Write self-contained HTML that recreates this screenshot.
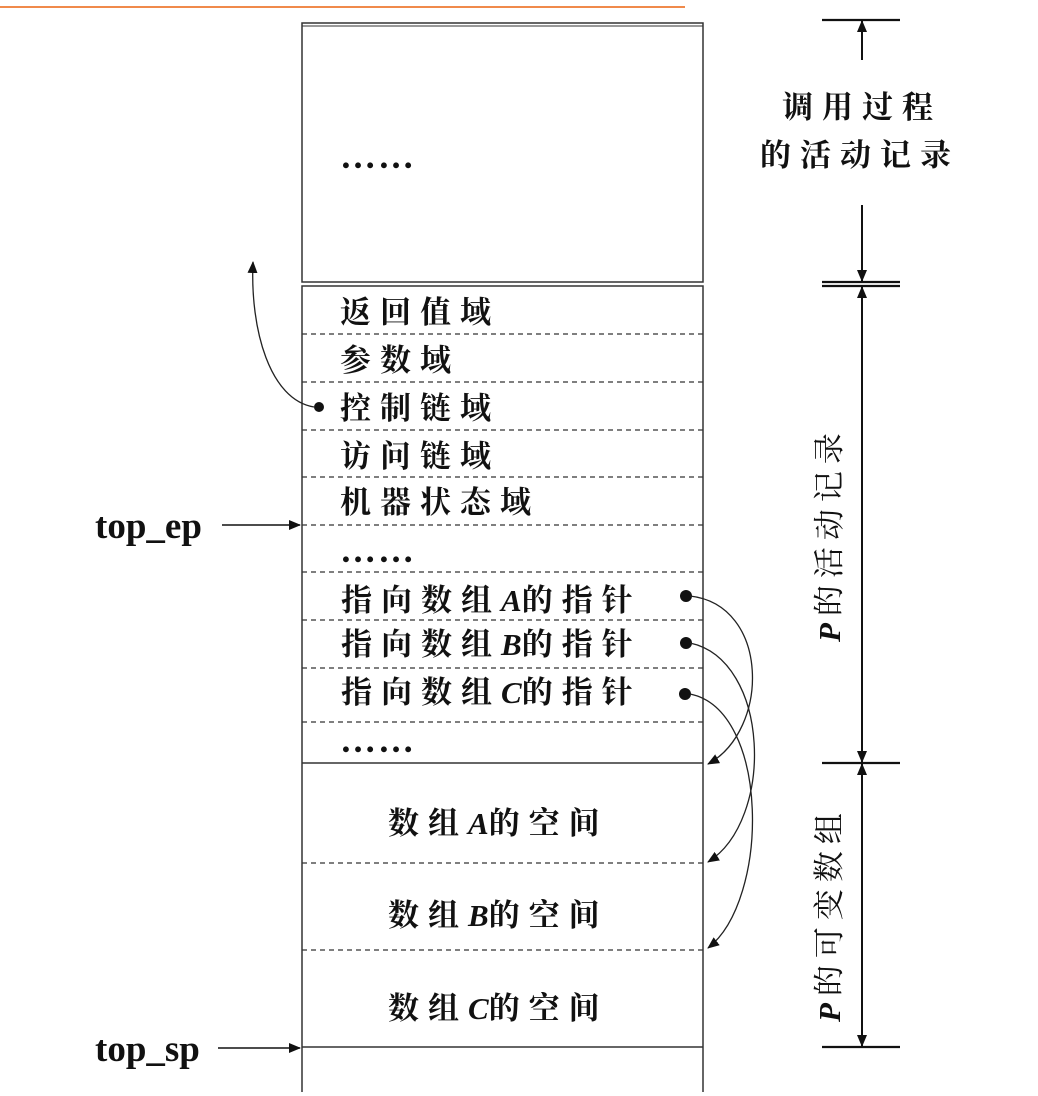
<!DOCTYPE html>
<html><head><meta charset="utf-8"><style>
html,body{margin:0;padding:0;background:#fff;}
svg{display:block;}
.cj{font-family:"Liberation Serif","Noto Serif CJK SC",serif;font-weight:bold;font-size:31px;letter-spacing:9px;fill:#111;}
.lb{font-family:"Liberation Serif",serif;font-weight:bold;font-size:37px;fill:#111;}
.dt{font-family:"Liberation Serif",serif;font-weight:bold;font-size:36px;letter-spacing:2px;fill:#111;}
.vt{font-family:"Liberation Serif","Noto Serif CJK SC",serif;font-size:31px;letter-spacing:7px;fill:#111;}
</style></head><body>
<svg width="1038" height="1096" viewBox="0 0 1038 1096" xmlns="http://www.w3.org/2000/svg">
<defs>
<marker id="ah" markerWidth="12" markerHeight="10" refX="11" refY="5" orient="auto" markerUnits="userSpaceOnUse">
<path d="M0,0 L12,5 L0,10 z" fill="#111"/></marker>
</defs>
<line x1="0" y1="7" x2="685" y2="7" stroke="#f08a4b" stroke-width="2"/>
<rect x="302" y="23" width="401" height="259" fill="none" stroke="#333" stroke-width="1.5"/>
<line x1="302" y1="26" x2="703" y2="26" stroke="#333" stroke-width="1"/>
<text x="340" y="168" class="dt">……</text>
<path d="M302,1092 L302,286 L703,286 L703,1092" fill="none" stroke="#333" stroke-width="1.5"/>
<g stroke="#333" stroke-width="1.2" stroke-dasharray="5,4">
<line x1="302" y1="334" x2="703" y2="334"/>
<line x1="302" y1="382" x2="703" y2="382"/>
<line x1="302" y1="430" x2="703" y2="430"/>
<line x1="302" y1="477" x2="703" y2="477"/>
<line x1="302" y1="525" x2="703" y2="525"/>
<line x1="302" y1="572" x2="703" y2="572"/>
<line x1="302" y1="620" x2="703" y2="620"/>
<line x1="302" y1="668" x2="703" y2="668"/>
<line x1="302" y1="722" x2="703" y2="722"/>
<line x1="302" y1="863" x2="703" y2="863"/>
<line x1="302" y1="950" x2="703" y2="950"/>
</g>
<line x1="302" y1="763" x2="703" y2="763" stroke="#333" stroke-width="1.5"/>
<line x1="302" y1="1047" x2="703" y2="1047" stroke="#333" stroke-width="1.5"/>
<text x="340" y="323" class="cj">返回值域</text>
<text x="340" y="371" class="cj">参数域</text>
<text x="340" y="419" class="cj">控制链域</text>
<text x="340" y="467" class="cj">访问链域</text>
<text x="340" y="513" class="cj">机器状态域</text>
<text x="340" y="562" class="dt">……</text>
<text x="341" y="611" class="cj">指向数组<tspan font-style="italic" style="letter-spacing:0">A</tspan>的指针</text>
<text x="341" y="655" class="cj">指向数组<tspan font-style="italic" style="letter-spacing:0">B</tspan>的指针</text>
<text x="341" y="703" class="cj">指向数组<tspan font-style="italic" style="letter-spacing:0">C</tspan>的指针</text>
<text x="340" y="752" class="dt">……</text>
<text x="388" y="834" class="cj">数组<tspan font-style="italic" style="letter-spacing:0">A</tspan>的空间</text>
<text x="388" y="926" class="cj">数组<tspan font-style="italic" style="letter-spacing:0">B</tspan>的空间</text>
<text x="388" y="1019" class="cj">数组<tspan font-style="italic" style="letter-spacing:0">C</tspan>的空间</text>
<text x="95" y="538" class="lb">top_ep</text>
<line x1="222" y1="525" x2="300" y2="525" stroke="#111" stroke-width="1.5" marker-end="url(#ah)"/>
<text x="95" y="1061" class="lb">top_sp</text>
<line x1="218" y1="1048" x2="300" y2="1048" stroke="#111" stroke-width="1.5" marker-end="url(#ah)"/>
<circle cx="319" cy="407" r="5" fill="#111"/>
<path d="M314,407 C270,400 250,330 253,262" fill="none" stroke="#222" stroke-width="1.3" marker-end="url(#ah)"/>
<circle cx="686" cy="596" r="6" fill="#111"/>
<circle cx="686" cy="643" r="6" fill="#111"/>
<circle cx="685" cy="694" r="6" fill="#111"/>
<g fill="none" stroke="#222" stroke-width="1.3" marker-end="url(#ah)">
<path d="M690,596 C770,605 770,730 708,764"/>
<path d="M690,643 C770,660 775,820 708,862"/>
<path d="M690,694 C770,710 770,900 708,948"/>
</g>
<g stroke="#111" stroke-width="2.2">
<line x1="822" y1="20" x2="900" y2="20"/>
<line x1="822" y1="282" x2="900" y2="282"/>
<line x1="822" y1="286" x2="900" y2="286"/>
<line x1="822" y1="763" x2="900" y2="763"/>
<line x1="822" y1="1047" x2="900" y2="1047"/>
</g>
<g stroke="#111" stroke-width="2" marker-end="url(#ah)">
<line x1="862" y1="60" x2="862" y2="21"/>
<line x1="862" y1="205" x2="862" y2="281"/>
<line x1="862" y1="520" x2="862" y2="287"/>
<line x1="862" y1="520" x2="862" y2="762"/>
<line x1="862" y1="905" x2="862" y2="764"/>
<line x1="862" y1="905" x2="862" y2="1046"/>
</g>
<text x="782" y="118" class="vt" style="font-weight:bold;letter-spacing:9px">调用过程</text>
<text x="760" y="166" class="vt" style="font-weight:bold;letter-spacing:9px">的活动记录</text>
<text transform="translate(840,642) rotate(-90)" class="vt"><tspan font-weight="bold" font-style="italic">P</tspan>的活动记录</text>
<text transform="translate(840,1022) rotate(-90)" class="vt"><tspan font-weight="bold" font-style="italic">P</tspan>的可变数组</text>
</svg>
</body></html>
